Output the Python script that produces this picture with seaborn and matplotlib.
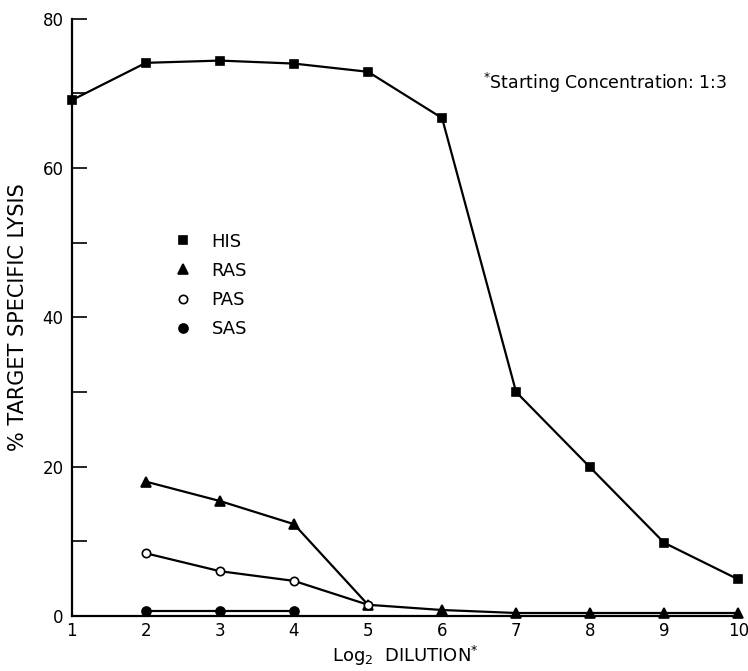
import numpy as np
import pandas as pd
import matplotlib
matplotlib.use("Agg")
import matplotlib.pyplot as plt
from matplotlib.lines import Line2D
from matplotlib.ticker import MultipleLocator
import seaborn as sns

OUT_PATH = "out.png"

# log2 dilution steps
dilution = [1, 2, 3, 4, 5, 6, 7, 8, 9, 10]

his_x = [1, 2, 3, 4, 5, 6, 7, 8, 9, 10]
his_y = [69.1, 74.1, 74.4, 74.0, 72.9, 66.7, 30.0, 19.9, 9.8, 4.9]

ras_x = [2, 3, 4, 5, 6, 7, 8, 9, 10]
ras_y = [18.0, 15.4, 12.3, 1.5, 0.8, 0.4, 0.4, 0.4, 0.4]

pas_x = [2, 3, 4, 5]
pas_y = [8.4, 6.0, 4.7, 1.5]

sas_x = [2, 3, 4]
sas_y = [0.7, 0.7, 0.7]

y_ticks = [0, 20, 40, 60, 80]


def main():
    sns.set_style("white")
    plt.rcParams["font.family"] = ["DejaVu Sans"]
    for k in ["text.color", "axes.labelcolor", "xtick.color", "ytick.color"]:
        plt.rcParams[k] = "black"

    fig = plt.figure(figsize=(7.48, 6.71), dpi=100)
    ax = fig.add_axes([0.096, 0.082, 0.891, 0.890])

    series = [
        ("HIS", his_x, his_y, "s", "black", 6),
        ("RAS", ras_x, ras_y, "^", "black", 7),
        ("PAS", pas_x, pas_y, "o", "white", 6),
        ("SAS", sas_x, sas_y, "o", "black", 6.5),
    ]
    handles = []
    for name, xs, ys, mk, fc, ms in series:
        df = pd.DataFrame({"x": xs, "y": ys})
        sns.lineplot(data=df, x="x", y="y", ax=ax, color="black", lw=1.6,
                     marker=mk, markersize=ms, markerfacecolor=fc,
                     markeredgecolor="black", markeredgewidth=1.2,
                     clip_on=False, zorder=3)
        handles.append(Line2D([], [], linestyle="none", marker=mk,
                              markersize=ms, markerfacecolor=fc,
                              markeredgecolor="black", markeredgewidth=1.2,
                              label=name))

    ax.set_xlim(1, 10)
    ax.set_ylim(0, 80)
    ax.set_xticks(dilution)
    ax.set_yticks(y_ticks)
    ax.yaxis.set_minor_locator(MultipleLocator(10))

    sns.despine(ax=ax)
    for s in ["left", "bottom"]:
        ax.spines[s].set_linewidth(1.6)
        ax.spines[s].set_color("black")

    ax.tick_params(axis="y", which="both", direction="in", length=11,
                   width=1.2, pad=6, labelsize=12, left=True)
    ax.tick_params(axis="x", length=0, pad=4, labelsize=12)

    ax.set_xlabel("Log$_2$  DILUTION$^{*}$", fontsize=13, labelpad=3)
    ax.set_ylabel("% TARGET SPECIFIC LYSIS", fontsize=15, labelpad=10)

    ax.text(6.55, 71.4, "$^{*}$Starting Concentration: 1:3", fontsize=12.5,
            va="center", ha="left")

    ax.legend(handles=handles, loc="upper left", bbox_to_anchor=(0.153, 0.642),
              frameon=False, fontsize=13, handlelength=1.0, handletextpad=1.1,
              labelspacing=0.62, borderpad=0, borderaxespad=0)

    fig.savefig(OUT_PATH, dpi=100)
    plt.close(fig)


if __name__ == "__main__":
    main()
